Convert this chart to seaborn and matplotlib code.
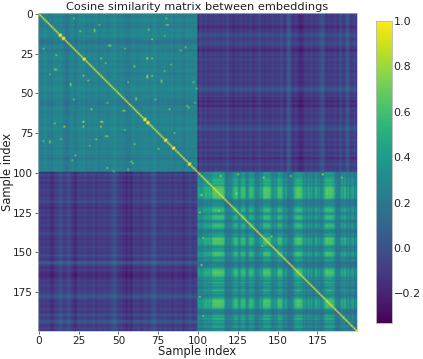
import numpy as np
import matplotlib
matplotlib.use("Agg")
import matplotlib.pyplot as plt
import seaborn as sns

# Values: per-sample band strengths (not cell-exact).
tone_a = [
 .02,.00,-.02,.01,.03,.00,-.02,.01,-.04,.00,.02,.03,.01,.02,.04,.00,-.02,-.06,-.06,-.03,
 .01,.02,.00,-.05,-.01,.01,.03,.00,.04,.01,-.02,.00,.02,-.01,.00,.01,.03,-.01,-.03,.01,
 .00,.02,.01,-.02,.00,.01,.02,.04,.04,.00,-.01,.01,.02,-.01,.00,-.05,-.02,-.05,.00,.01,
 .02,.00,-.03,.01,.00,.01,.02,.01,.03,.00,-.01,.01,.04,.04,.00,-.02,.01,.00,-.01,.02,
 .00,.01,-.01,.02,.00,-.03,.01,.00,.02,-.01,.00,-.05,.00,.01,.02,-.01,.01,.00,.02,.01]
load_b = [
 .62,.56,.52,.60,.72,.78,.66,.80,.62,.92,.98,1.0,.96,1.0,.94,.98,.90,.42,.36,.45,
 .38,.50,.70,.86,.90,.62,.46,.82,.88,.84,.52,.40,.76,.88,.80,.68,.34,.38,.46,.66,
 .52,.92,.98,.90,.96,.86,.58,.42,.66,.50,.86,.92,.88,.62,.44,.70,.34,.30,.38,.36,
 .68,.88,.94,.98,.90,.86,.56,.66,.40,.72,.48,.64,.36,.52,.78,.42,.60,.34,.50,.72,
 .94,.98,.92,.96,.90,.84,.46,.34,.30,.40,.74,.58,.82,.44,.66,.36,.56,.70,.32,.50]
cross_a = [
 .03,.02,.00,.02,.00,.01,.02,.00,-.05,-.03,.01,.02,.03,.06,.08,.03,.01,.03,.05,.07,
 .03,.00,-.02,-.06,.00,.02,.03,.00,.02,.04,.01,.00,.02,.00,.03,.02,-.01,.01,.03,.02,
 .00,.03,.02,.00,.01,.03,.05,.09,.09,.04,.01,.00,.02,-.03,.00,-.07,.00,-.02,-.07,.01,
 .02,.00,.03,.01,-.02,.00,.02,.04,.01,.00,.03,.06,.09,.08,.02,.00,.03,.01,.00,.04,
 .02,.00,.03,.01,-.02,.02,.04,.01,.00,.03,.00,-.05,.02,.00,.03,.05,.01,.00,.02,.03]
cross_b = [
 -.06,.08,.03,.00,.02,.05,-.02,.01,.04,.00,.02,.05,.01,.03,.00,.02,.04,.01,.09,.04,
 .00,.02,-.03,.01,.03,.00,.02,.04,-.01,.01,.03,.00,.02,.05,.00,-.02,.03,.01,.07,.04,
 .00,.02,-.01,.03,.01,.00,.02,.04,.00,.03,.01,.02,.08,.03,.00,.01,.12,.13,.04,.01,
 -.02,.02,.00,-.03,-.05,-.05,-.02,.01,.03,.00,.02,.04,.01,.00,.03,.02,.05,.08,.12,.06,
 .01,.00,.03,.01,.00,.02,.04,.01,.00,.09,.05,.01,.03,.10,.11,.04,.00,.02,.05,.01]
spot_rows = [28,28,28,39,40,71,71,71,68,33,36,11,7,10,7,3,60,79,69,79,80,80,54,53,54,58,43,42,42,38,35,82,97,98,94,32,20,23,21,43,47,61,73,77,85,44,22,
             13,14,15,16,28,29,66,67,68,69,79,80,84,85,94,95, 102,101,103,102,101,103,124,140]
spot_cols = [68,71,39,28,68,16,39,28,39,60,79,26,38,35,81,80,33,36,10,14,3,7,22,61,73,93,56,77,31,7,11,60,43,56,59,83,45,89,92,97,99,54,54,43,75,20,3,
             14,13,16,15,29,28,67,66,69,68,80,79,85,84,95,94, 114,125,141,158,178,190,113,146]
spot_vals = [.98,.85,.88,.80,.80,.85,.85,.80,.88,.82,.78,.76,.76,.74,.74,.72,.82,.76,.74,.70,.70,.70,.70,.70,.74,.74,.70,.72,.70,.70,.70,.72,.72,.74,.74,.70,.70,.68,.68,.74,.70,.70,.70,.68,.68,.70,.68,
             .98,.98,.98,.98,.98,.98,.98,.98,.98,.98,.98,.98,.98,.98,.98,.98, .85,.80,.80,.85,.82,.80,.82,.78]

a = np.array(tone_a); l = np.array(load_b); ca = np.array(cross_a); cb = np.array(cross_b)
m = np.zeros((200, 200))
m[:100, :100] = 0.25 + 1.2 * (a[:, None] + a[None, :])
m[100:, 100:] = 0.06 + 0.62 * np.outer(l, l)
m[:100, 100:] = -0.13 + 1.3 * (ca[:, None] + cb[None, :])
m[100:, :100] = m[:100, 100:].T
for r, c, v in zip(spot_rows, spot_cols, spot_vals):
    m[r, c] = m[c, r] = v
np.fill_diagonal(m, 1.0)

fig = plt.figure(figsize=(4.23, 3.59), dpi=100)
ax = fig.add_axes([38/423, 1-331/359, 318.5/423, 318/359])
cax = fig.add_axes([376.3/423, 1-323/359, 15.2/423, 302/359])
sns.heatmap(m, ax=ax, cbar_ax=cax, cmap="viridis", vmin=-0.33, vmax=1.0, square=False,
            xticklabels=False, yticklabels=False)
# Same data, scale and colours as the seaborn mesh; bilinear gives the reference's soft cells.
ax.collections[0].set_visible(False)
ax.imshow(m, cmap="viridis", vmin=-0.33, vmax=1.0, aspect="auto",
          extent=(0, 200, 200, 0), interpolation="bilinear")
ticks = [0, 25, 50, 75, 100, 125, 150, 175]
ax.set_xticks([t + .5 for t in ticks]); ax.set_xticklabels(ticks, rotation=0)
ax.set_yticks([t + .5 for t in ticks]); ax.set_yticklabels(ticks, rotation=0)
ax.tick_params(labelsize=7.6, length=2, width=.5, pad=1.5, colors="#222222")
ax.set_title("Cosine similarity matrix between embeddings", fontsize=8.2, pad=2, color="#222222")
ax.set_xlabel("Sample index", fontsize=8.3, color="#222222")
ax.set_ylabel("Sample index", fontsize=8.3, color="#222222")
ax.xaxis.set_label_coords(0.5, -0.044)
ax.yaxis.set_label_coords(-0.075, 0.5)
for s in ax.spines.values():
    s.set_visible(True); s.set_linewidth(.5); s.set_color("#bbbbbb")
cax.set_yticks([-0.2, 0, .2, .4, .6, .8, 1.0])
cax.tick_params(labelsize=8, length=0, pad=1.5, colors="#222222")
for s in cax.spines.values():
    s.set_visible(True); s.set_linewidth(.5); s.set_color("#bbbbbb")
fig.savefig("out.png", dpi=100)
